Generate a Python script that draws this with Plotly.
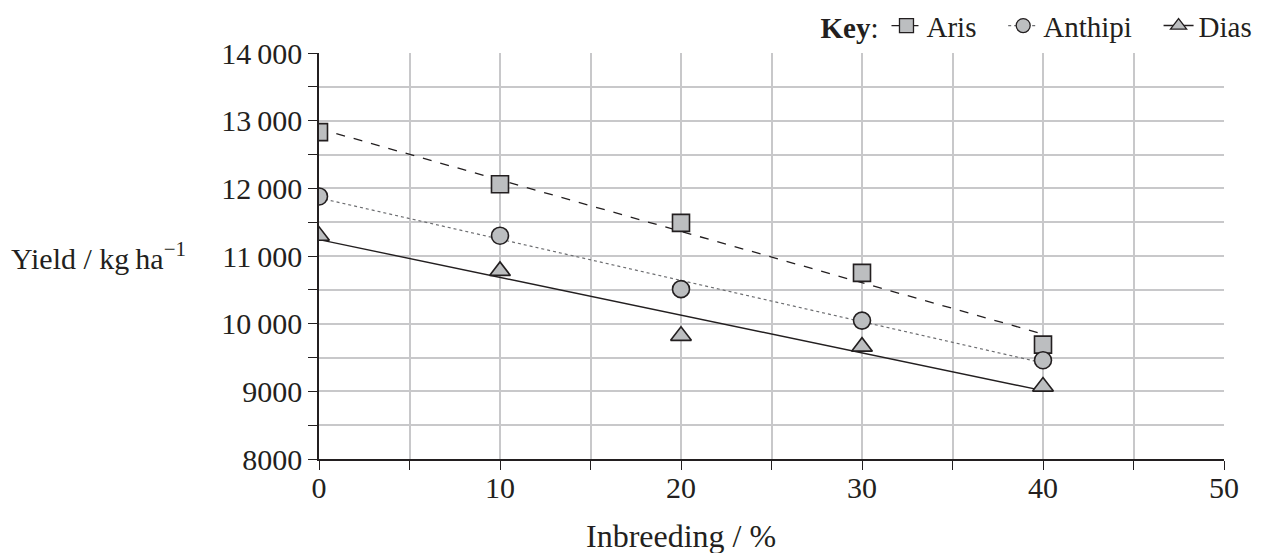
import numpy as np
import plotly.graph_objects as go

inbreeding = [0, 10, 20, 30, 40]
aris = [12830, 12060, 11490, 10750, 9690]
anthipi = [11880, 11300, 10510, 10045, 9460]
dias = [11300, 10780, 9820, 9660, 9070]

series_names = ["Aris", "Anthipi", "Dias"]
series_values = [aris, anthipi, dias]
symbols = ["square", "circle", "triangle-up"]
dashes = ["dash", "dot", "solid"]
line_colors = ["#231f20", "#6d6e71", "#231f20"]
line_widths = [1.3, 1.2, 1.4]

y_tickvals = list(range(8000, 14001, 500))
y_ticktext = ["8000", "9000", "10\u2009000", "11\u2009000", "12\u2009000", "13\u2009000", "14\u2009000"]
x_tickvals = list(range(0, 51, 5))
x_ticktext = ["0", "10", "20", "30", "40", "50"]

FONT = "Liberation Serif"
INK = "#231f20"
FILL = "#bcbec0"
NB = "\u00a0"

fig = go.Figure()
xs = np.array(inbreeding, dtype=float)
pads = [NB * 3, NB * 3, ""]
for name, vals, sym, dash, lc, lw, pad in zip(series_names, series_values, symbols, dashes, line_colors, line_widths, pads):
    m, c = np.polyfit(xs, np.array(vals, dtype=float), 1)
    xfit = [xs.min(), xs.max()]
    fig.add_trace(go.Scatter(x=xfit, y=[m * v + c for v in xfit], mode="lines",
                             line=dict(color=lc, width=lw, dash=dash), showlegend=False, hoverinfo="skip"))
    fig.add_trace(go.Scatter(x=inbreeding, y=vals, mode="markers", showlegend=False,
                             marker=dict(symbol=sym, size=17 if sym != "triangle-up" else 18, color=FILL,
                                         line=dict(color=INK, width=1.6))))
    fig.add_trace(go.Scatter(x=[None], y=[None], mode="lines+markers", name=name + pad,
                             line=dict(color=lc, width=lw, dash=dash),
                             marker=dict(symbol=sym, size=14, color=FILL, line=dict(color=INK, width=1.3))))

def full_text(vals, labels, step):
    out = []
    it = iter(labels)
    for v in vals:
        out.append(next(it) if v % step == 0 else "")
    return out

fig.update_xaxes(range=[0, 50], tickmode="array", tickvals=x_tickvals,
                 ticktext=full_text(x_tickvals, x_ticktext, 10),
                 showgrid=True, gridcolor="#c8c8ca", gridwidth=1.5, zeroline=False,
                 showline=True, linecolor=INK, linewidth=1.5,
                 ticks="outside", ticklen=9, tickcolor=INK, tickwidth=1.3,
                 ticklabelstandoff=-8,
                 tickfont=dict(family=FONT, size=30, color=INK))
fig.update_yaxes(range=[8000, 14000], tickmode="array", tickvals=y_tickvals,
                 ticktext=full_text(y_tickvals, y_ticktext, 1000),
                 showgrid=True, gridcolor="#c8c8ca", gridwidth=1.5, zeroline=False,
                 showline=True, linecolor=INK, linewidth=1.5,
                 ticks="outside", ticklen=9, tickcolor=INK, tickwidth=1.3,
                 tickfont=dict(family=FONT, size=30, color=INK))

fig.add_annotation(text="Yield / kg\u2009ha<sup>\u22121</sup>", xref="paper", yref="paper",
                   x=-0.342, y=0.5, xanchor="left", yanchor="middle", showarrow=False,
                   font=dict(family=FONT, size=30, color=INK))
fig.add_annotation(text="Inbreeding / %", xref="paper", yref="paper",
                   x=0.4, y=-0.19, xanchor="center", yanchor="middle", showarrow=False,
                   font=dict(family=FONT, size=32, color=INK))

fig.update_layout(
    width=1264, height=553,
    margin=dict(l=319, r=40, t=53, b=94, autoexpand=False),
    plot_bgcolor="white", paper_bgcolor="white",
    font=dict(family=FONT, size=29, color=INK),
    legend=dict(orientation="h", xref="paper", yref="paper", x=1.037, y=1.13,
                xanchor="right", yanchor="top", title=dict(text="<b>Key</b>:", font=dict(size=29)),
                font=dict(family=FONT, size=29, color=INK), itemwidth=30, bgcolor="rgba(0,0,0,0)"),
)

fig.write_html("out.html")
